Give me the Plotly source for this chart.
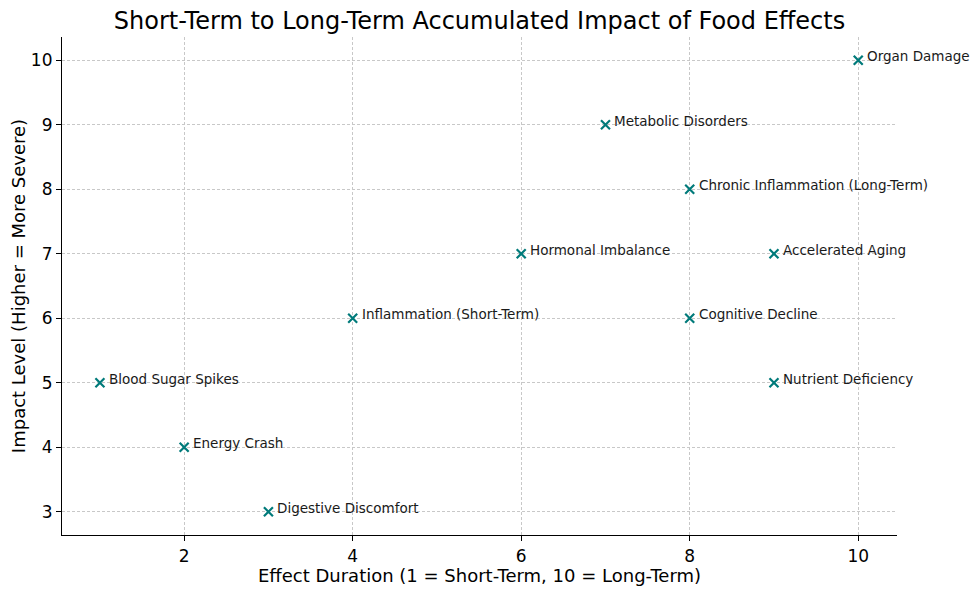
import plotly.graph_objects as go

effects = ["Blood Sugar Spikes", "Energy Crash", "Digestive Discomfort", "Inflammation (Short-Term)",
           "Hormonal Imbalance", "Metabolic Disorders", "Chronic Inflammation (Long-Term)",
           "Cognitive Decline", "Accelerated Aging", "Nutrient Deficiency", "Organ Damage"]
duration = [1, 2, 3, 4, 6, 7, 8, 8, 9, 9, 10]
impact = [5, 4, 3, 6, 7, 9, 8, 6, 7, 5, 10]

FONT = "DejaVu Sans"
fig = go.Figure()
fig.add_trace(go.Scatter(
    x=duration, y=impact, mode="markers",
    marker=dict(symbol="x-thin", size=9, color="#007a7a", line=dict(width=2.2, color="#007a7a")),
    hoverinfo="text", text=effects, showlegend=False,
))
for e, xv, yv in zip(effects, duration, impact):
    fig.add_annotation(x=xv, y=yv, text=e, showarrow=False, xanchor="left", yanchor="middle",
                       xshift=7, yshift=4, font=dict(family=FONT, size=13.5, color="#1a1a1a"))

axis_common = dict(
    showline=True, linecolor="black", linewidth=1.2, mirror=False,
    ticks="outside", ticklen=5, tickcolor="black", tickwidth=1,
    showgrid=True, gridcolor="#c8c8c8", griddash="3px,2px", gridwidth=1,
    zeroline=False, tickfont=dict(family=FONT, size=17, color="black"),
    automargin=False,
)
fig.update_xaxes(range=[0.55, 10.46], dtick=2, tick0=0,
                 title=dict(text="Effect Duration (1 = Short-Term, 10 = Long-Term)",
                            font=dict(family=FONT, size=18, color="black"), standoff=2),
                 **axis_common)
fig.update_yaxes(range=[2.64, 10.36], dtick=1,
                 title=dict(text="Impact Level (Higher = More Severe)",
                            font=dict(family=FONT, size=18, color="black"), standoff=3),
                 **axis_common)
fig.update_layout(
    width=980, height=592,
    margin=dict(l=54, r=91, t=29, b=65),
    plot_bgcolor="white", paper_bgcolor="white",
    title=dict(text="Short-Term to Long-Term Accumulated Impact of Food Effects",
               xref="paper", x=0.5, xanchor="center", y=0.978, yanchor="middle",
               font=dict(family=FONT, size=24, color="black")),
)
fig.write_html("out.html")
